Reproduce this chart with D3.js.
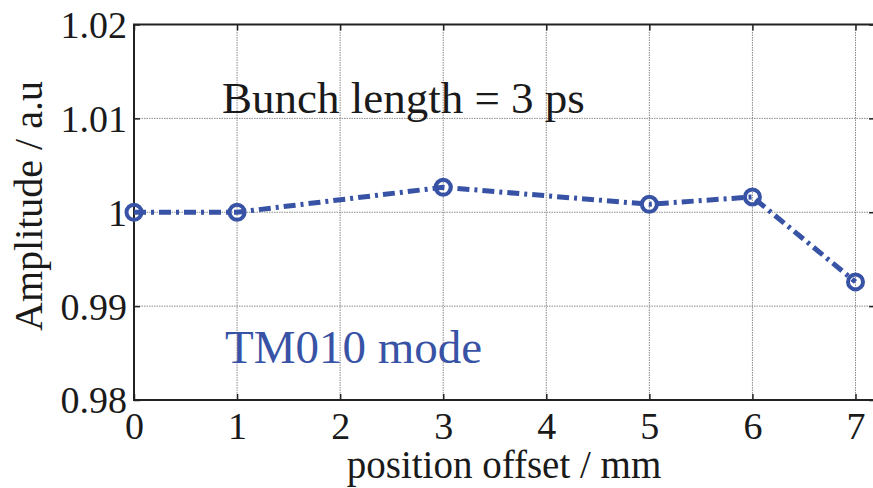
<!DOCTYPE html>
<html><head><meta charset="utf-8">
<script src="https://cdn.jsdelivr.net/npm/d3@7/dist/d3.min.js"></script>
<style>body{margin:0;background:#fff;} svg{display:block;} text{font-family:"Liberation Serif","Tinos","Times New Roman","DejaVu Serif",serif;}</style>
</head><body>
<script>
const offsets = [0, 1, 3, 5, 6, 7];
const amplitude = [1.0, 1.0, 1.00266, 1.00085, 1.00163, 0.99258];
const xTicks = [0, 1, 2, 3, 4, 5, 6, 7];
const yTicks = [0.98, 0.99, 1.0, 1.01, 1.02];
const yTickLabels = ["0.98", "0.99", "1", "1.01", "1.02"];

const W = 873, H = 488;
const L = 134, T = 24.5, B = 400;
const svg = d3.select("body").append("svg").attr("width", W).attr("height", H);
const blue = "#3853a5";

const x = d3.scaleLinear().domain([0, 7]).range([L, 855.5]);
const y = d3.scaleLinear().domain([0.98, 1.02]).range([B, T]);
const R = x(7.19);

// grid
const g = svg.append("g");
g.selectAll(".gx").data(xTicks).enter().append("line")
  .attr("x1", d => x(d)).attr("x2", d => x(d)).attr("y1", T).attr("y2", B)
  .attr("stroke", "#8a8a8a").attr("stroke-width", 1).attr("stroke-dasharray", "1.5,1");
g.selectAll(".gy").data(yTicks).enter().append("line")
  .attr("x1", L).attr("x2", R).attr("y1", d => y(d)).attr("y2", d => y(d))
  .attr("stroke", "#8a8a8a").attr("stroke-width", 1).attr("stroke-dasharray", "1.5,1");

// axes
const xAxisB = d3.axisBottom(x).tickValues(xTicks).tickSize(-6).tickFormat(d3.format("d"));
const xAxisT = d3.axisTop(x).tickValues(xTicks).tickSize(-6).tickFormat("");
const yAxisL = d3.axisLeft(y).tickValues(yTicks).tickSize(-6).tickFormat((d, i) => yTickLabels[i]);
const yAxisR = d3.axisRight(y).tickValues(yTicks).tickSize(-6).tickFormat("");

function style(sel) {
  sel.attr("font-family", null).attr("font-size", null);
  sel.select(".domain").remove();
  sel.selectAll(".tick line").attr("stroke", "#222").attr("stroke-width", 1.5);
  sel.selectAll("text").style("font-size", "38px").attr("fill", "#1a1a1a");
}
svg.append("g").attr("transform", `translate(0,${B})`).call(xAxisB).call(style)
  .selectAll("text").attr("dy", "0.71em").attr("y", 12);
svg.append("g").attr("transform", `translate(0,${T})`).call(xAxisT).call(style);
svg.append("g").attr("transform", `translate(${L},0)`).call(yAxisL).call(style)
  .selectAll("text").attr("x", -7).attr("dy", "0.34em");
svg.append("g").attr("transform", `translate(${R},0)`).call(yAxisR).call(style);

// frame
svg.append("rect").attr("x", L).attr("y", T).attr("width", R - L).attr("height", B - T)
  .attr("fill", "none").attr("stroke", "#222").attr("stroke-width", 2);

// line
const line = d3.line().x((d, i) => x(offsets[i])).y(d => y(d));
svg.append("path").datum(amplitude).attr("d", line)
  .attr("fill", "none").attr("stroke", blue).attr("stroke-width", 5)
  .attr("stroke-dasharray", "12,5,3,5");
svg.selectAll(".pt").data(amplitude).enter().append("circle")
  .attr("cx", (d, i) => x(offsets[i])).attr("cy", d => y(d)).attr("r", 7.5)
  .attr("fill", "none").attr("stroke", blue).attr("stroke-width", 4);

// texts
svg.append("text").attr("x", 222).attr("y", 113).style("font-size", "45px")
  .attr("fill", "#1a1a1a").text("Bunch length = 3 ps");
svg.append("text").attr("x", 225).attr("y", 363).style("font-size", "47px")
  .attr("fill", blue).text("TM010 mode");
svg.append("text").attr("x", 504).attr("y", 478).attr("text-anchor", "middle")
  .style("font-size", "39px").attr("fill", "#1a1a1a").text("position offset / mm");
svg.append("text").attr("transform", "translate(42,206) rotate(-90)").attr("text-anchor", "middle")
  .style("font-size", "40px").attr("fill", "#1a1a1a").text("Amplitude / a.u");
</script>
</body></html>
